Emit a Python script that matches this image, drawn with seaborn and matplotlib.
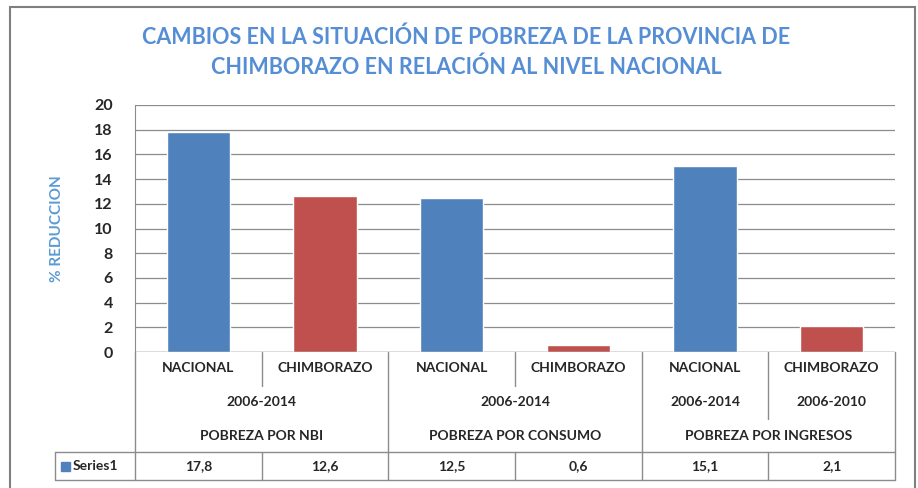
import numpy as np
import pandas as pd
import matplotlib.pyplot as plt
import seaborn as sns
from matplotlib.transforms import blended_transform_factory
from matplotlib.lines import Line2D
from matplotlib.patches import Rectangle

# datos
tipos = ["NACIONAL", "CHIMBORAZO", "NACIONAL", "CHIMBORAZO", "NACIONAL", "CHIMBORAZO"]
periodos = ["2006-2014", "2006-2014", "2006-2014", "2006-2014", "2006-2014", "2006-2010"]
grupos = ["POBREZA POR NBI", "POBREZA POR NBI", "POBREZA POR CONSUMO",
          "POBREZA POR CONSUMO", "POBREZA POR INGRESOS", "POBREZA POR INGRESOS"]
reduccion = [17.8, 12.6, 12.5, 0.6, 15.1, 2.1]

azul = "#4F81BD"
rojo = "#C0504D"
gris = "#8C8C8C"
texto = "#262626"

df = pd.DataFrame({"pos": [str(i) for i in range(len(reduccion))],
                   "tipo": tipos, "periodo": periodos, "grupo": grupos,
                   "valor": reduccion})

sns.set_style("white")
plt.rcParams['font.family'] = ['Lato', 'DejaVu Sans']

W, H = 918, 488
fig = plt.figure(figsize=(W / 100, H / 100), dpi=100)
ax = fig.add_axes([135 / W, 1 - 352 / H, (895 - 135) / W, (352 - 105) / H])

sns.barplot(data=df, x="pos", y="valor", hue="tipo", order=df["pos"],
            palette={"NACIONAL": azul, "CHIMBORAZO": rojo},
            dodge=False, width=0.5, legend=False, saturation=1, ax=ax)

ax.set_ylim(0, 20)
ax.set_yticks(np.arange(0, 21, 2))
ax.set_xlim(-0.5, len(reduccion) - 0.5)
ax.yaxis.grid(True, color=gris, lw=0.9)
ax.set_axisbelow(True)
for s in ["top", "right", "bottom"]:
    ax.spines[s].set_visible(False)
ax.spines["left"].set_color(gris)
ax.tick_params(axis="y", length=0, pad=16, labelsize=11.5, labelcolor=texto)
for t in ax.get_yticklabels():
    t.set_fontweight("bold")
ax.set_xticks([])
ax.set_xlabel("")
ax.set_ylabel("% REDUCCION", color="#5B9BD5", fontsize=11, fontweight="bold", labelpad=22)

fig.suptitle("CAMBIOS EN LA SITUACIÓN DE POBREZA DE LA PROVINCIA DE\nCHIMBORAZO EN RELACIÓN AL NIVEL NACIONAL",
             x=466 / W, y=1 - 26 / H, color="#558ED5", fontsize=15.5, fontweight="bold",
             linespacing=1.5, va="top")

# tabla de categorias debajo del eje (x en datos, y en figura)
tr = blended_transform_factory(ax.transData, fig.transFigure)


def fy(p):
    return 1 - p / H


def linea(x0, x1, y0, y1):
    fig.add_artist(Line2D([x0, x1], [fy(y0), fy(y1)], transform=tr, color=gris, lw=1))


n = len(reduccion)
ax.axhline(0, color=gris, lw=1)
fs = 10
fw = "bold"
for i in range(n):
    ax.text(i, fy(368), tipos[i], transform=tr, ha="center", va="center", fontsize=fs,
            color=texto, fontweight=fw)
    ax.text(i, fy(466), f"{reduccion[i]:.1f}".replace(".", ","), transform=tr,
            ha="center", va="center", fontsize=fs, color=texto, fontweight=fw)

# periodos: se agrupan si coinciden dentro del mismo grupo
i = 0
while i < n:
    j = i
    while j + 1 < n and grupos[j + 1] == grupos[i] and periodos[j + 1] == periodos[i]:
        j += 1
    ax.text((i + j) / 2, fy(402), periodos[i], transform=tr, ha="center", va="center",
            fontsize=fs, color=texto, fontweight=fw)
    if j + 1 < n and grupos[j + 1] == grupos[i]:
        linea(j + 0.5, j + 0.5, 352, 419)
    i = j + 1

i = 0
while i < n:
    j = i
    while j + 1 < n and grupos[j + 1] == grupos[i]:
        j += 1
    ax.text((i + j) / 2, fy(436), grupos[i], transform=tr, ha="center", va="center",
            fontsize=fs, color=texto, fontweight=fw)
    linea(i - 0.5, i - 0.5, 352, 480)
    for k in range(i, j):
        if periodos[k] == periodos[k + 1]:
            linea(k + 0.5, k + 0.5, 352, 386)
    i = j + 1
linea(n - 0.5, n - 0.5, 352, 480)
for k in range(1, n):
    if grupos[k] == grupos[k - 1]:
        linea(k - 0.5, k - 0.5, 452, 480)

# fila de la serie
x_izq = -0.5 - 80 / 126.7
linea(x_izq, n - 0.5, 452, 452)
linea(x_izq, n - 0.5, 480, 480)
linea(x_izq, x_izq, 452, 480)
fig.add_artist(Rectangle((x_izq + 0.05, fy(471)), 0.07, 9 / H, transform=tr, color=azul))
ax.text(x_izq + 0.14, fy(466), "Series1", transform=tr, ha="left", va="center",
        fontsize=fs, color=texto, fontweight=fw)

# marco exterior
fig.add_artist(Rectangle((10 / W, -0.05), 905 / W, 1.05 - 7 / H, transform=fig.transFigure,
                         fill=False, edgecolor="#7f7f7f", lw=1.5))

fig.savefig("out.png", dpi=100)
